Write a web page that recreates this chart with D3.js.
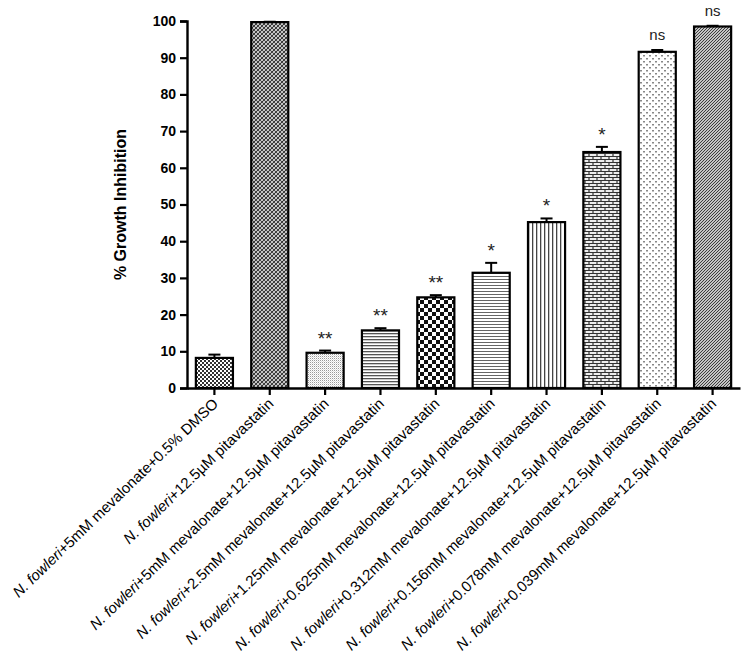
<!DOCTYPE html>
<html>
<head>
<meta charset="utf-8">
<script src="https://cdn.jsdelivr.net/npm/d3@7"></script>
<style>
  body { margin: 0; background: #fff; }
  svg { display: block; font-family: Arial, "Liberation Sans", sans-serif; }
</style>
</head>
<body>
<div id="chart-container"></div>
<script>
// data
const groups = [
  "N. fowleri+5mM mevalonate+0.5% DMSO",
  "N. fowleri+12.5µM pitavastatin",
  "N. fowleri+5mM mevalonate+12.5µM pitavastatin",
  "N. fowleri+2.5mM mevalonate+12.5µM pitavastatin",
  "N. fowleri+1.25mM mevalonate+12.5µM pitavastatin",
  "N. fowleri+0.625mM mevalonate+12.5µM pitavastatin",
  "N. fowleri+0.312mM mevalonate+12.5µM pitavastatin",
  "N. fowleri+0.156mM mevalonate+12.5µM pitavastatin",
  "N. fowleri+0.078mM mevalonate+12.5µM pitavastatin",
  "N. fowleri+0.039mM mevalonate+12.5µM pitavastatin"
];
const means = [8.2, 99.7, 9.6, 15.7, 24.7, 31.4, 45.2, 64.3, 91.6, 98.5];
const errors = [0.9, 0.1, 0.6, 0.6, 0.6, 2.7, 1.0, 1.4, 0.5, 0.2];
const stars = ["", "", "**", "**", "**", "*", "*", "*", "ns", "ns"];
const yTicks = [0, 10, 20, 30, 40, 50, 60, 70, 80, 90, 100];

const W = 750, H = 669;
const margin = { top: 21, left: 187, right: 10 };
const plotBottom = 388;

const svg = d3.select("#chart-container")
  .append("svg")
    .attr("width", W)
    .attr("height", H);

// fill patterns, one per bar
const defs = svg.append("defs");
function pat(id, w, h, draw) {
  const p = defs.append("pattern")
    .attr("id", id)
    .attr("patternUnits", "userSpaceOnUse")
    .attr("width", w)
    .attr("height", h);
  p.append("rect").attr("width", w).attr("height", h).attr("fill", "#fff");
  draw(p);
}
// 1: fine checker
pat("p0", 4, 4, p => {
  p.append("rect").attr("width", 2).attr("height", 2).attr("fill", "#333");
  p.append("rect").attr("x", 2).attr("y", 2).attr("width", 2).attr("height", 2).attr("fill", "#333");
});
// 2: dense crosshatch
pat("p1", 4, 4, p => {
  p.append("path").attr("d", "M0,4L4,0M-1,1L1,-1M3,5L5,3").attr("stroke", "#222").attr("stroke-width", 1.1);
  p.append("path").attr("d", "M0,0L4,4M-1,3L1,5M3,-1L5,1").attr("stroke", "#444").attr("stroke-width", 1.1);
});
// 3: light stipple
pat("p2", 2, 2, p => {
  p.append("rect").attr("width", 1).attr("height", 1).attr("fill", "#999");
  p.append("rect").attr("x", 1).attr("y", 1).attr("width", 1).attr("height", 1).attr("fill", "#ddd");
});
// 4: horizontal lines
pat("p3", 4, 3, p => {
  p.append("rect").attr("y", 0).attr("width", 4).attr("height", 1.3).attr("fill", "#555");
});
// 5: checkerboard
pat("p4", 8, 8, p => {
  p.append("rect").attr("width", 4).attr("height", 4).attr("fill", "#111");
  p.append("rect").attr("x", 4).attr("y", 4).attr("width", 4).attr("height", 4).attr("fill", "#111");
});
// 6: horizontal lines, thinner
pat("p5", 4, 3, p => {
  p.append("rect").attr("y", 0).attr("width", 4).attr("height", 1).attr("fill", "#666");
});
// 7: vertical lines
pat("p6", 4, 4, p => {
  p.append("rect").attr("x", 0).attr("width", 1.3).attr("height", 4).attr("fill", "#444");
});
// 8: bricks
pat("p7", 8, 6, p => {
  p.append("rect").attr("width", 8).attr("height", 6).attr("fill", "#eee");
  p.append("path")
    .attr("d", "M0,0.5H8M0,3.5H8M1,0.5V3.5M5,3.5V6.5")
    .attr("stroke", "#333").attr("stroke-width", 1.2).attr("fill", "none");
});
// 9: sparse dots
pat("p8", 6, 6, p => {
  p.append("rect").attr("x", 1).attr("y", 1).attr("width", 2).attr("height", 1.5).attr("fill", "#888");
  p.append("rect").attr("x", 4).attr("y", 4).attr("width", 2).attr("height", 1.5).attr("fill", "#888");
});
// 10: diagonal lines
pat("p9", 3, 3, p => {
  p.append("path").attr("d", "M0,3L3,0M-1,1L1,-1M2,4L4,2").attr("stroke", "#333").attr("stroke-width", 1.1);
});

// scales
const x = d3.scaleBand()
  .domain(groups)
  .range([margin.left, W - margin.right])
  .paddingInner(0.33)
  .paddingOuter(0.16);

const y = d3.scaleLinear()
  .domain([0, 100])
  .range([plotBottom, margin.top]);

// bars
svg.append("g")
  .selectAll("rect")
  .data(groups)
  .join("rect")
    .attr("x", d => x(d))
    .attr("y", (d, i) => y(means[i]))
    .attr("width", x.bandwidth())
    .attr("height", (d, i) => y(0) - y(means[i]))
    .attr("fill", (d, i) => `url(#p${i})`)
    .attr("stroke", "#000")
    .attr("stroke-width", 2.2);

// error bars (upper only)
const eb = svg.append("g").attr("stroke", "#000").attr("stroke-width", 2);
groups.forEach((g, i) => {
  const cx = x(g) + x.bandwidth() / 2;
  eb.append("line")
    .attr("x1", cx).attr("x2", cx)
    .attr("y1", y(means[i])).attr("y2", y(means[i] + errors[i]));
  eb.append("line")
    .attr("x1", cx - 6).attr("x2", cx + 6)
    .attr("y1", y(means[i] + errors[i])).attr("y2", y(means[i] + errors[i]));
});

// significance marks
svg.append("g")
  .selectAll("text")
  .data(groups)
  .join("text")
    .attr("x", d => x(d) + x.bandwidth() / 2)
    .attr("y", (d, i) => y(means[i] + errors[i]) - (stars[i] === "ns" ? 10 : 6))
    .attr("text-anchor", "middle")
    .attr("font-size", (d, i) => stars[i] === "ns" ? 15 : 19)
    .attr("fill", "#222")
    .text((d, i) => stars[i]);

// y axis
const yAxis = svg.append("g")
  .attr("transform", `translate(${margin.left},0)`)
  .call(d3.axisLeft(y).tickValues(yTicks).tickSize(7).tickPadding(4));
yAxis.selectAll("text").attr("font-size", 14).attr("font-weight", "bold").attr("fill", "#000");

// x axis
const xAxis = svg.append("g")
  .attr("transform", `translate(0,${plotBottom})`)
  .call(d3.axisBottom(x).tickSize(7).tickSizeOuter(0).tickFormat(""));

svg.selectAll(".domain").attr("stroke", "#000").attr("stroke-width", 2.4);
svg.selectAll(".tick line").attr("stroke", "#000").attr("stroke-width", 2.2);

// rotated category labels
svg.append("g")
  .selectAll("text")
  .data(groups)
  .join("text")
    .attr("transform", d => `translate(${x(d) + x.bandwidth() / 2 + 1},${plotBottom + 13}) rotate(-44)`)
    .attr("text-anchor", "end")
    .attr("dy", "0.35em")
    .attr("font-size", 15)
    .attr("fill", "#000")
    .each(function (d) {
      const t = d3.select(this);
      t.append("tspan").attr("font-style", "italic").text("N. fowleri");
      t.append("tspan").text(d.replace("N. fowleri", ""));
    });

// y title
svg.append("text")
  .attr("transform", `translate(126,${(y(0) + y(100)) / 2}) rotate(-90)`)
  .attr("text-anchor", "middle")
  .attr("font-size", 16)
  .attr("font-weight", "bold")
  .text("% Growth Inhibition");
</script>
</body>
</html>
